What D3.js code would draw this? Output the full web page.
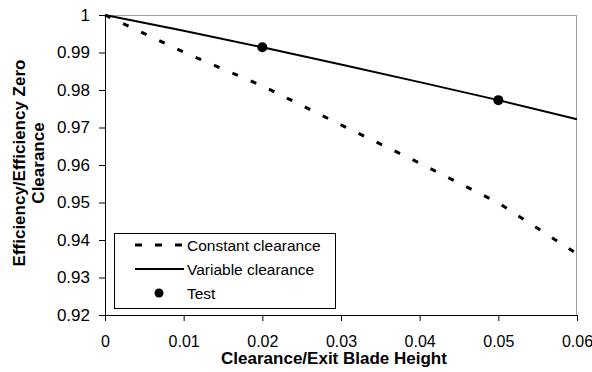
<!DOCTYPE html>
<html>
<head>
<meta charset="utf-8">
<script src="https://cdn.jsdelivr.net/npm/d3@7"></script>
<style>
  body { margin: 0; background: #fff; }
  text { font-family: "Liberation Sans", Arial, sans-serif; }
</style>
</head>
<body>
<div id="chart"></div>
<script>
// x values (clearance / exit blade height)
var clearance = [0, 0.01, 0.02, 0.03, 0.04, 0.05, 0.06];
// efficiency ratio, constant clearance
var constantEff = [1, 0.9901, 0.9811, 0.9707, 0.9605, 0.9499, 0.9363];
// efficiency ratio, variable clearance
var variableEff = [1, 0.9958, 0.9914, 0.9868, 0.9821, 0.9773, 0.9722];
// test points
var testX = [0.02, 0.05];
var testY = [0.9914, 0.9773];

var xTicks = [0, 0.01, 0.02, 0.03, 0.04, 0.05, 0.06];
var yTicks = [0.92, 0.93, 0.94, 0.95, 0.96, 0.97, 0.98, 0.99, 1];

var W = 592, H = 372;
var margin = {top: 15, right: 15, bottom: 57, left: 105},
    width = W - margin.left - margin.right,
    height = H - margin.top - margin.bottom;

var svg = d3.select("#chart")
  .append("svg")
    .attr("width", W)
    .attr("height", H)
  .append("g")
    .attr("transform", "translate(" + margin.left + "," + margin.top + ")");

var x = d3.scaleLinear().domain([0, 0.06]).range([0, width]);
var y = d3.scaleLinear().domain([0.92, 1]).range([height, 0]);

// gray frame top/right
svg.append("line")
  .attr("x1", 0).attr("x2", width).attr("y1", 0.5).attr("y2", 0.5)
  .attr("stroke", "#a0a0a0");
svg.append("line")
  .attr("x1", width - 0.5).attr("x2", width - 0.5).attr("y1", 0).attr("y2", height)
  .attr("stroke", "#a0a0a0");

// axes
var xAxis = svg.append("g")
  .attr("transform", "translate(0," + height + ")")
  .call(d3.axisBottom(x).tickValues(xTicks).tickSize(6).tickSizeOuter(0)
    .tickFormat(function(d) { return d === 0 ? "0" : d3.format(".2f")(d); }));
xAxis.selectAll("text")
  .attr("y", 21)
  .style("font-size", "16px").attr("fill", "#000");

var yAxis = svg.append("g")
  .call(d3.axisLeft(y).tickValues(yTicks).tickSize(6).tickSizeOuter(0)
    .tickFormat(function(d) { return d === 1 ? "1" : d3.format(".2f")(d); }));
yAxis.selectAll("text")
  .attr("x", -15)
  .style("font-size", "17px").attr("fill", "#000");
svg.selectAll(".domain, .tick line").attr("stroke", "#000");

// lines
var line = d3.line()
  .x(function(d) { return x(d[0]); })
  .y(function(d) { return y(d[1]); });

svg.append("path")
  .datum(d3.zip(clearance, constantEff))
  .attr("d", line)
  .attr("fill", "none")
  .attr("stroke", "#000")
  .attr("stroke-width", 3)
  .attr("stroke-dasharray", "6,14");

svg.append("path")
  .datum(d3.zip(clearance, variableEff))
  .attr("d", line)
  .attr("fill", "none")
  .attr("stroke", "#000")
  .attr("stroke-width", 2);

svg.selectAll("testDots")
  .data(d3.zip(testX, testY))
  .enter()
  .append("circle")
    .attr("cx", function(d) { return x(d[0]); })
    .attr("cy", function(d) { return y(d[1]); })
    .attr("r", 5)
    .attr("fill", "#000");

// legend
var lg = svg.append("g").attr("transform", "translate(9,218)");
lg.append("rect")
  .attr("x", 0.5).attr("y", 0.5).attr("width", 221).attr("height", 75)
  .attr("fill", "#fff").attr("stroke", "#000");
var legendItems = ["Constant clearance", "Variable clearance", "Test"];
legendItems.forEach(function(name, i) {
  var cy = 12 + i * 24;
  if (i === 0) {
    lg.append("line").attr("x1", 21).attr("x2", 70).attr("y1", cy).attr("y2", cy)
      .attr("stroke", "#000").attr("stroke-width", 3).attr("stroke-dasharray", "7,13");
  } else if (i === 1) {
    lg.append("line").attr("x1", 21).attr("x2", 70).attr("y1", cy).attr("y2", cy)
      .attr("stroke", "#000").attr("stroke-width", 2);
  } else {
    lg.append("circle").attr("cx", 45).attr("cy", cy).attr("r", 4.5).attr("fill", "#000");
  }
  lg.append("text")
    .attr("x", 73).attr("y", cy).attr("dy", "0.36em")
    .style("font-size", "15.5px")
    .text(name);
});

// axis titles
svg.append("text")
  .attr("x", width / 2 - 7).attr("y", height + 49)
  .attr("text-anchor", "middle")
  .style("font-size", "17px").style("font-weight", "bold")
  .text("Clearance/Exit Blade Height");

var yt = svg.append("text")
  .attr("transform", "translate(" + (-80) + "," + 148 + ") rotate(-90)")
  .attr("text-anchor", "middle")
  .style("font-size", "17px").style("font-weight", "bold");
yt.append("tspan").attr("x", 0).attr("y", 0).text("Efficiency/Efficiency Zero");
yt.append("tspan").attr("x", 0).attr("y", 19).text("Clearance");
</script>
</body>
</html>
